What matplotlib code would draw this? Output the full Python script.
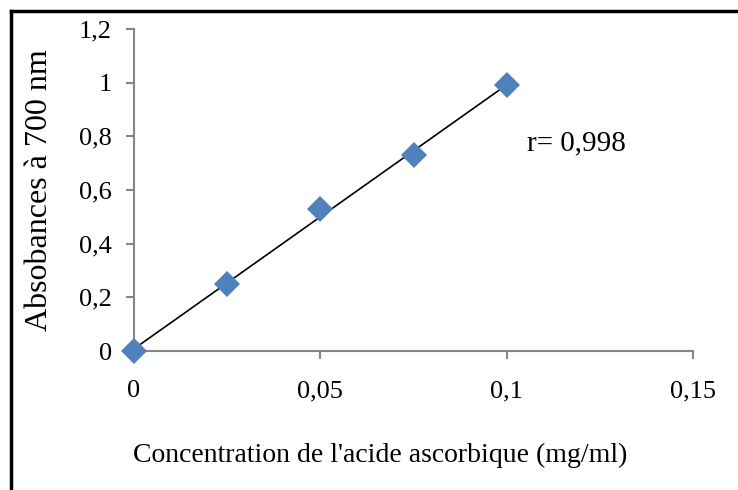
import matplotlib
matplotlib.use("Agg")
import matplotlib.pyplot as plt
from matplotlib.lines import Line2D
from matplotlib.ticker import FuncFormatter
import numpy as np

concentration = [0, 0.025, 0.05, 0.075, 0.1]
absorbance = [0, 0.25, 0.53, 0.73, 0.99]
x_ticks = [0, 0.05, 0.1, 0.15]
y_ticks = [0, 0.2, 0.4, 0.6, 0.8, 1.0, 1.2]
r_label = "r= 0,998"
x_label = "Concentration de l'acide ascorbique (mg/ml)"
y_label = "Absobances à 700 nm"

plt.rcParams['font.family'] = ['Liberation Serif', 'DejaVu Serif']

fig = plt.figure(figsize=(7.38, 4.9), dpi=100)
ax = fig.add_axes([134/738, 1-351/490, (693-134)/738, (351-29)/490])

# trend line (linear fit)
slope, intercept = np.polyfit(concentration, absorbance, 1)
xs = np.array([min(concentration), max(concentration)])
ax.plot(xs, slope*xs + intercept, color='black', lw=1.2, zorder=2)
ax.plot(concentration, absorbance, linestyle='none', marker='D', ms=13.5,
        color='#4F81BD', markeredgewidth=0, zorder=3, clip_on=False)

ax.set_xlim(0, 0.15)
ax.set_ylim(0, 1.2)
ax.set_xticks(x_ticks)
ax.set_yticks(y_ticks)

def fmt(v, pos):
    s = ('%.3f' % v).rstrip('0').rstrip('.')
    if s == '-0':
        s = '0'
    return s.replace('.', ',')

ax.xaxis.set_major_formatter(FuncFormatter(fmt))
ax.yaxis.set_major_formatter(FuncFormatter(fmt))

for s in ['top', 'right']:
    ax.spines[s].set_visible(False)
for s in ['left', 'bottom']:
    ax.spines[s].set_color('#868686')
    ax.spines[s].set_linewidth(1.5)
ax.tick_params(axis='both', direction='out', color='#868686', width=1.5, length=6, labelsize=19)
ax.tick_params(axis='y', pad=10)
ax.tick_params(axis='x', pad=15)

ax.text(0.1055, 0.775, r_label, fontsize=21, va='center', ha='left')

fig.text(0.515, 0.071, x_label, fontsize=20, ha='center', va='center')
fig.text(0.054, 0.612, y_label, fontsize=23, ha='center', va='center', rotation=90)

# outer frame (left and top edges)
fig.add_artist(Line2D([10.5/738, 10.5/738], [0, 1-11.5/490], transform=fig.transFigure, color='black', lw=2.5))
fig.add_artist(Line2D([10.5/738, 1], [1-11.5/490, 1-11.5/490], transform=fig.transFigure, color='black', lw=2.5))

fig.savefig('out.png', dpi=100)
